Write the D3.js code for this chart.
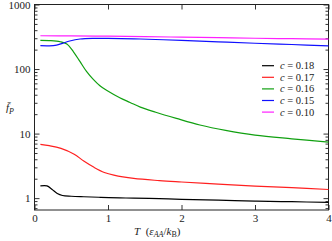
<!DOCTYPE html>
<html><head><meta charset="utf-8">
<script src="https://cdn.jsdelivr.net/npm/d3@7"></script>
<style>body{margin:0;background:#fff}svg{display:block}text{font-family:"Liberation Serif","DejaVu Serif",serif;}</style>
</head><body>
<script>
const seriesLabels = ["0.18","0.17","0.16","0.15","0.10"];
const seriesColors = ["#000000","#ff2020","#10a010","#1010ff","#ff20ff"];
const T18 = [0.08,0.17,0.24,0.31,0.38,0.5,0.67,0.9,1.16,1.35,1.7,2.0,2.5,3.0,3.5,4.0];
const V18 = [1.55,1.55,1.36,1.18,1.10,1.07,1.05,1.03,1.01,1.0,0.98,0.96,0.93,0.90,0.88,0.86];
const T17 = [0.08,0.2,0.36,0.54,0.67,0.81,0.95,1.08,1.35,1.7,2.0,2.5,3.0,3.5,4.0];
const V17 = [6.8,6.5,5.9,4.8,3.75,3.0,2.5,2.27,2.02,1.87,1.78,1.65,1.54,1.45,1.36];
const T16 = [0.08,0.2,0.35,0.44,0.53,0.62,0.71,0.8,0.89,0.98,1.16,1.3,1.44,1.65,1.93,2.25,2.6,3.0,3.5,4.0];
const V16 = [279,276,265,244,185,130,91,69,55,46.8,35.9,30.4,25.7,21.4,17.2,13.6,11.2,9.45,8.3,7.4];
const T15 = [0.08,0.2,0.3,0.38,0.48,0.62,0.8,1.0,1.44,2.0,2.5,3.0,3.5,4.0];
const V15 = [230,229,235,250,272,292,299,298,292,278,264,251,240,228];
const T10 = [0.08,0.5,1.0,1.5,2.0,2.5,3.0,3.5,4.0];
const V10 = [328,327,323,318,312,306,300,295,290];
const seriesT = [T18,T17,T16,T15,T10];
const seriesV = [V18,V17,V16,V15,V10];
const xTicks = [0,1,2,3,4];
const yTicks = [1,10,100,1000];

const W=332,H=241;
const m={l:34.5,r:3.5,t:4.5,b:31};
const svg=d3.select("body").append("svg").attr("width",W).attr("height",H);
const x=d3.scaleLinear().domain([0,4]).range([m.l,W-m.r]);
const y=d3.scaleLog().domain([0.655,1000]).range([H-m.b,m.t]);

const g=svg.append("g");
const minor=[];
for(let d=0.1;d<1000;d*=10){for(let k=2;k<=9;k++){const v=+(d*k).toPrecision(3);if(v>=0.655&&v<1000)minor.push(v);}}
const yAxL=d3.axisLeft(y).tickValues(yTicks).tickFormat(d3.format("d")).tickSizeInner(-5).tickSizeOuter(0).tickPadding(4);
const yAxR=d3.axisRight(y).tickValues(yTicks).tickFormat("").tickSizeInner(-5).tickSizeOuter(0);
g.append("g").attr("transform",`translate(${m.l},0)`).call(yAxL);
g.append("g").attr("transform",`translate(${W-m.r},0)`).call(yAxR);
g.append("g").attr("transform",`translate(${m.l},0)`).call(d3.axisLeft(y).tickValues(minor).tickFormat("").tickSizeInner(-3).tickSizeOuter(0));
g.append("g").attr("transform",`translate(${W-m.r},0)`).call(d3.axisRight(y).tickValues(minor).tickFormat("").tickSizeInner(-3).tickSizeOuter(0));
g.append("g").attr("transform",`translate(0,${H-m.b})`).call(d3.axisBottom(x).tickValues(xTicks).tickFormat(d3.format("d")).tickSizeInner(-5).tickSizeOuter(0).tickPadding(4));
g.append("g").attr("transform",`translate(0,${m.t})`).call(d3.axisTop(x).tickValues(xTicks).tickFormat("").tickSizeInner(-5).tickSizeOuter(0));
g.selectAll(".domain").remove();
g.selectAll("text").attr("font-size",11).attr("fill","#222");
g.selectAll(".tick line").attr("stroke","#333");
svg.append("rect").attr("x",m.l).attr("y",m.t).attr("width",W-m.r-m.l).attr("height",H-m.b-m.t)
  .attr("fill","none").attr("stroke","#222").attr("stroke-width",1);

const line=d3.line().x(d=>x(d[0])).y(d=>y(d[1])).curve(d3.curveCatmullRom.alpha(0.5));
seriesT.forEach((ts,i)=>{
  svg.append("path").datum(ts.map((t,j)=>[t,seriesV[i][j]]))
    .attr("d",line).attr("fill","none").attr("stroke",seriesColors[i]).attr("stroke-width",1.2);
});

const lg=svg.append("g");
seriesLabels.forEach((lab,i)=>{
  const yy=65.7+i*11.6;
  lg.append("line").attr("x1",262).attr("x2",274).attr("y1",yy).attr("y2",yy).attr("stroke",seriesColors[i]).attr("stroke-width",1.2);
  const t=lg.append("text").attr("x",280).attr("y",yy+3.5).attr("font-size",10.5).attr("fill","#222");
  t.append("tspan").attr("font-style","italic").text("c");
  t.append("tspan").text(" = "+lab);
});

const yl=svg.append("text").attr("x",6).attr("y",111).attr("font-size",11).attr("fill","#222");
yl.append("tspan").attr("font-style","italic").text("f\u0304");
yl.append("tspan").attr("font-style","italic").attr("font-size",8).attr("dy",3).text("P");
const xl=svg.append("text").attr("x",134).attr("y",235).attr("font-size",11).attr("fill","#222");
xl.append("tspan").attr("font-style","italic").text("T");
xl.append("tspan").text("\u00a0\u00a0(");
xl.append("tspan").attr("font-style","italic").text("\u03b5");
xl.append("tspan").attr("font-style","italic").attr("font-size",8).attr("dy",2).text("AA");
xl.append("tspan").attr("dy",-2).text("/");
xl.append("tspan").attr("font-style","italic").text("k");
xl.append("tspan").attr("font-size",8).attr("dy",2).text("B");
xl.append("tspan").attr("dy",-2).text(")");
</script>
</body></html>
